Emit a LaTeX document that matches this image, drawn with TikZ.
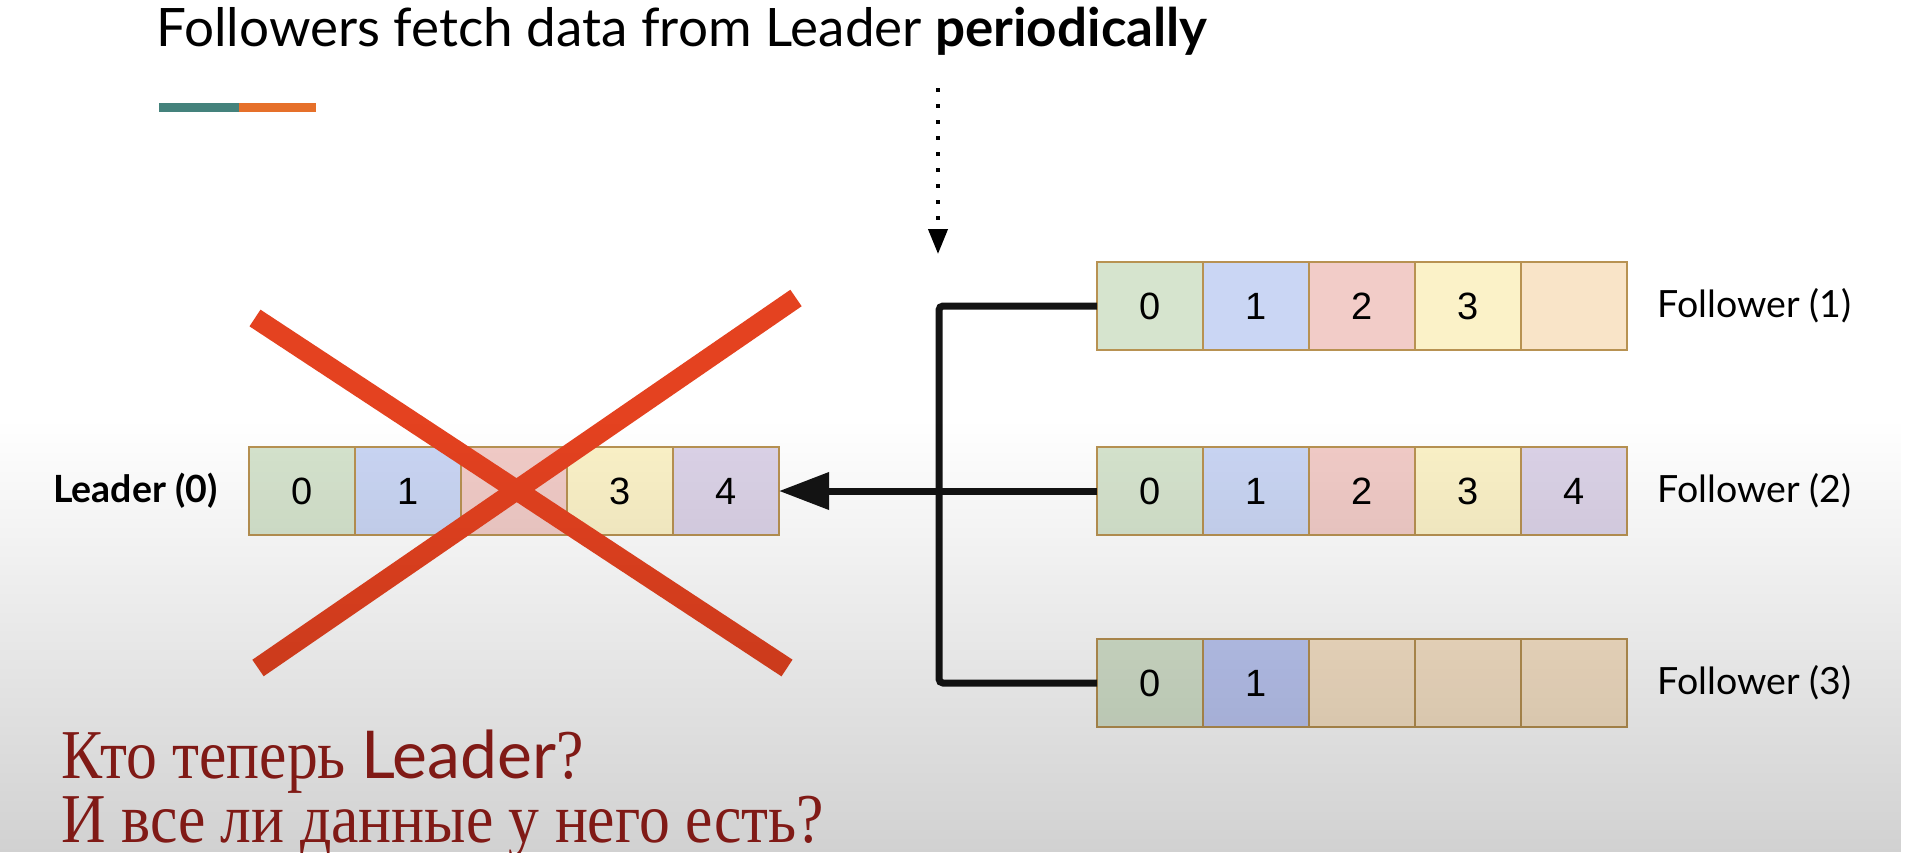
\documentclass[tikz,border=0pt]{standalone}
\usepackage{fontspec}
\setmainfont{Lato}
\newfontfamily\cellfont{Liberation Sans}
\newfontfamily\rufont[FakeStretch=0.88]{Liberation Serif}
\usetikzlibrary{positioning, arrows.meta, fadings}

\definecolor{cellline}{RGB}{184,146,82}
\definecolor{cgreen}{RGB}{214,228,206}
\definecolor{cblue}{RGB}{202,214,244}
\definecolor{cred}{RGB}{242,204,200}
\definecolor{cyellow}{RGB}{251,242,200}
\definecolor{cpurple}{RGB}{220,211,232}
\definecolor{corange}{RGB}{249,228,200}
\definecolor{crossred}{RGB}{228,66,32}
\definecolor{barteal}{RGB}{68,130,124}
\definecolor{barorange}{RGB}{230,112,42}
\definecolor{rured}{RGB}{128,26,22}

\tikzset{
    node distance=0pt,
    cell/.style={draw=cellline, line width=1.6pt, minimum width=106pt, minimum height=88pt,
        inner sep=0pt, outer sep=0pt, font=\cellfont\fontsize{38}{38}\selectfont},
    rowname/.style={font=\fontsize{37.5}{42}\selectfont},
    link/.style={line width=7pt, draw=black!92},
    poll/.style={line width=4pt, dash pattern=on 4pt off 12pt, -{Triangle[length=25pt, width=19pt]}},
    cross/.style={line width=20pt, draw=crossred},
    question/.style={anchor=base west, text=rured, font=\rufont\fontsize{70}{70}\selectfont}
}

\begin{document}
\begin{tikzpicture}[x=1pt, y=-1pt]
\useasboundingbox[fill=white] (0,0) rectangle (1905,852);

% title and bar
\node[anchor=base west, font=\fontsize{53}{60}\selectfont] (title) at (153,46)
    {Followers fetch data from Leader \textbf{periodically}};
\draw[line width=9pt, barteal] (159,107.5) -- (239,107.5);
\draw[line width=9pt, barorange] (239,107.5) -- (316,107.5);

% leader log
\node[cell, fill=cgreen, anchor=west] (l0) at (249,491) {0};
\node[cell, fill=cblue, right=of l0] (l1) {1};
\node[cell, fill=cred, right=of l1] (l2) {};
\node[cell, fill=cyellow, right=of l2] (l3) {3};
\node[cell, fill=cpurple, right=of l3] (l4) {4};
\node[rowname, left=28pt of l0] (leader) {\bfseries Leader (0)};

% follower logs
\node[cell, fill=cgreen, anchor=west] (f1c0) at (1097,306) {0};
\node[cell, fill=cblue, right=of f1c0] (f1c1) {1};
\node[cell, fill=cred, right=of f1c1] (f1c2) {2};
\node[cell, fill=cyellow, right=of f1c2] (f1c3) {3};
\node[cell, fill=corange, right=of f1c3] (f1c4) {};
\node[rowname, right=27pt of f1c4] (follower1) {Follower (1)};

\node[cell, fill=cgreen, anchor=west] (f2c0) at (1097,491) {0};
\node[cell, fill=cblue, right=of f2c0] (f2c1) {1};
\node[cell, fill=cred, right=of f2c1] (f2c2) {2};
\node[cell, fill=cyellow, right=of f2c2] (f2c3) {3};
\node[cell, fill=cpurple, right=of f2c3] (f2c4) {4};
\node[rowname, right=27pt of f2c4] (follower2) {Follower (2)};

\node[cell, fill=cgreen, anchor=west] (f3c0) at (1097,683) {0};
\node[cell, fill=cblue!94!blue, right=of f3c0] (f3c1) {1};
\node[cell, fill=corange, right=of f3c1] (f3c2) {};
\node[cell, fill=corange, right=of f3c2] (f3c3) {};
\node[cell, fill=corange, right=of f3c3] (f3c4) {};
\node[rowname, right=27pt of f3c4] (follower3) {Follower (3)};

% fetch lines
\coordinate (bus) at (939,491);
\draw[link, rounded corners=4pt] (f1c0.west) -| (bus) |- (f3c0.west);
\draw[link, -{Triangle[length=50pt, width=36pt]}] (f2c0.west) -- (l4.east);

\coordinate (pollstart) at (938,88);
\coordinate (pollend) at (938,254);
\draw[poll] (pollstart) -- (pollend);

% crossed out leader
\draw[cross] (255,318) -- (787,668);
\draw[cross] (796,298) -- (258,668);

% grey shade at the bottom
\fill[black, opacity=0.18, path fading=north] (0,420) rectangle (1905,852);

\node[question] (q1) at (58,778) {Кто теперь {\normalfont\fontsize{66}{66}\selectfont Leader}?};
\node[question] (q2) at (58,842) {И все ли данные у него есть?};
\end{tikzpicture}
\end{document}
